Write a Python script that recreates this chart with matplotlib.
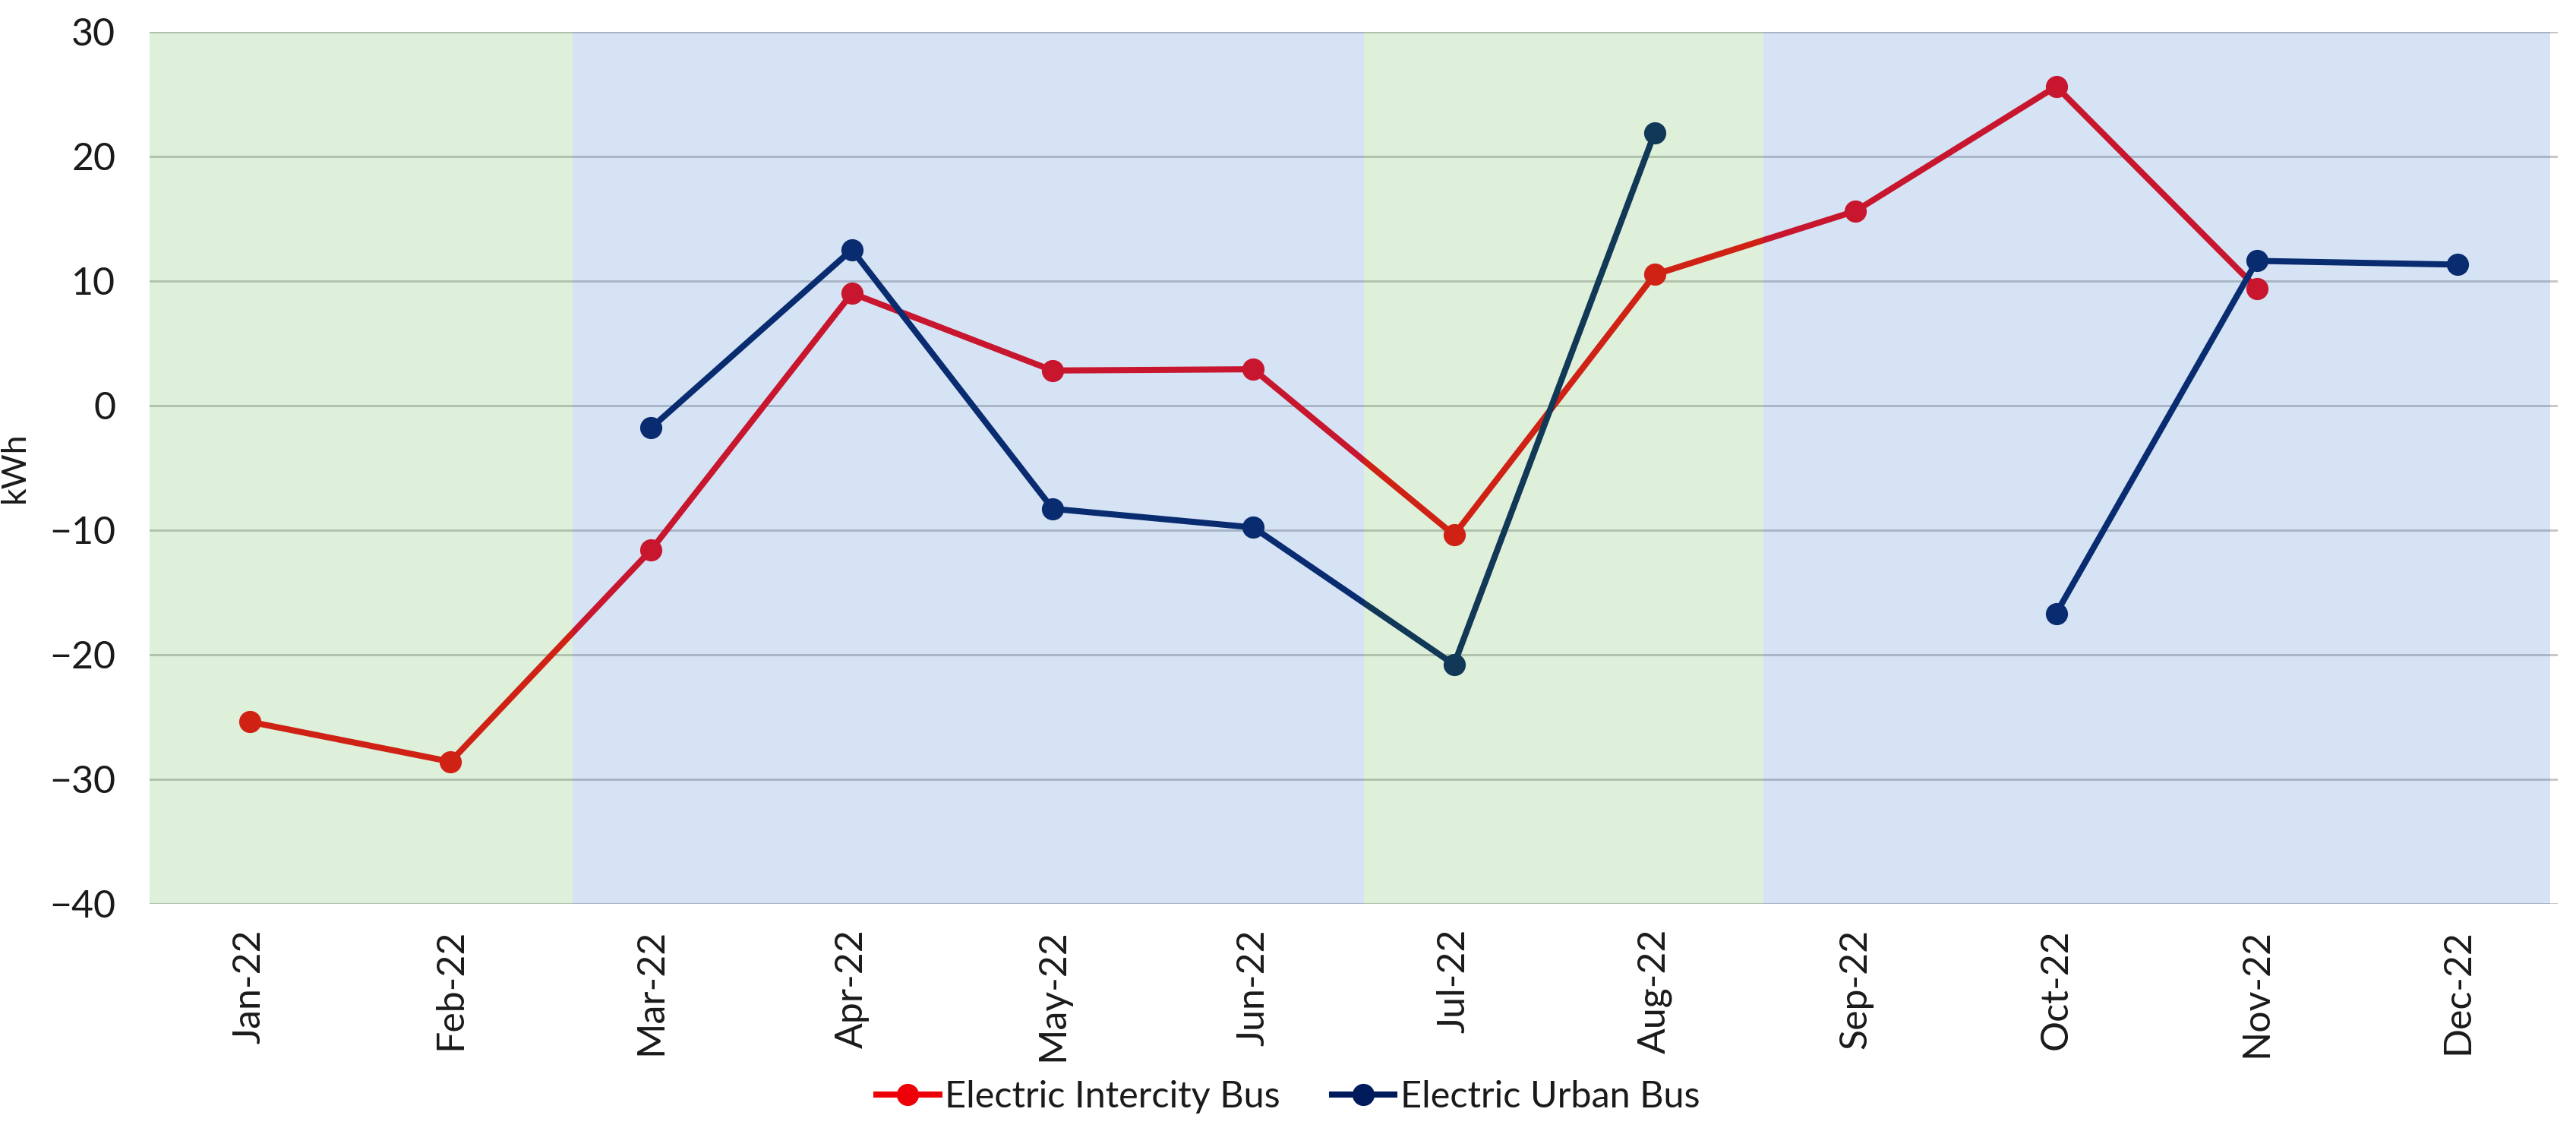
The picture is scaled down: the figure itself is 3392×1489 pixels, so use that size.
import numpy as np
import matplotlib
matplotlib.use("Agg")
import matplotlib.pyplot as plt

plt.rcParams["font.family"] = ["Lato", "DejaVu Sans"]
plt.rcParams["text.color"] = "#1a1a1a"
plt.rcParams["axes.labelcolor"] = "#1a1a1a"
plt.rcParams["xtick.color"] = "#1a1a1a"
plt.rcParams["ytick.color"] = "#1a1a1a"

months = ["Jan-22", "Feb-22", "Mar-22", "Apr-22", "May-22", "Jun-22",
          "Jul-22", "Aug-22", "Sep-22", "Oct-22", "Nov-22", "Dec-22"]
intercity = [-25.4, -28.6, -11.6, 9.0, 2.8, 2.9, -10.4, 10.5, 15.6, 25.6, 9.4, np.nan]
urban = [np.nan, np.nan, -1.8, 12.5, -8.3, -9.8, -20.8, 21.9, np.nan, -16.7, 11.6, 11.3]

# shaded periods (in category units) and their tint
period_edges = [-0.5, 1.61, 5.55, 7.54, 11.46]
period_colors = ["#5AAF46", "#3273C8", "#5AAF46", "#3273C8"]

fig = plt.figure(figsize=(16.96, 7.445), dpi=200)
ax = fig.add_axes([0.058, 0.201, 0.935, 0.771])

x = np.arange(len(months))
ax.plot(x, intercity, color="#ED0008", lw=2.9, marker="o", ms=9.5,
        label="Electric Intercity Bus", zorder=2)
ax.plot(x, urban, color="#001B5C", lw=2.9, marker="o", ms=9.5,
        label="Electric Urban Bus", zorder=2.1)

# translucent period overlay sits on top of the lines
for i, c in enumerate(period_colors):
    ax.axvspan(period_edges[i], period_edges[i + 1], color=c, alpha=0.2,
               lw=0, zorder=3)

ax.set_xlim(-0.5, len(months) - 0.5)
ax.set_ylim(-40, 30)
ax.set_yticks(range(-40, 31, 10))
ax.set_xticks(x)
ax.set_xticklabels(months, rotation=90)
ax.yaxis.grid(True, color="#C4C4C4", lw=1.0)
ax.set_axisbelow(True)
for s in ax.spines.values():
    s.set_visible(False)
ax.tick_params(axis="y", length=0, labelsize=18, pad=16)
ax.tick_params(axis="x", length=0, labelsize=18, pad=12)

ax.set_ylabel("kWh", fontsize=16)
ax.yaxis.set_label_coords(-0.0495, 0.5)

fig.legend(loc="center", bbox_to_anchor=(0.5, 0.03), ncol=2, frameon=False,
           fontsize=17.5, handlelength=1.7, columnspacing=1.4, handletextpad=0.15)

fig.savefig("out.png", dpi=200)
